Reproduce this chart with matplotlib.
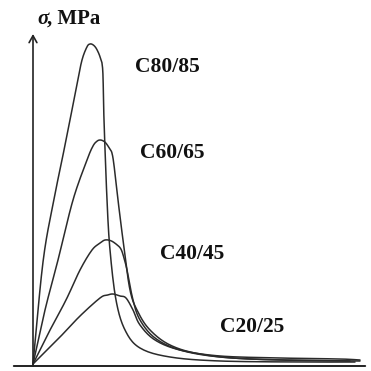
import numpy as np
import matplotlib
matplotlib.use("Agg")
import matplotlib.pyplot as plt

# strain (arbitrary units) and stress (MPa-like units)
labels = ["C80/85", "C60/65", "C40/45", "C20/25"]

strain_c80 = [0, 0.5, 1.0, 1.45, 1.85, 2.2, 2.45, 2.7, 2.85, 3.0, 3.15, 3.3, 3.4, 3.45, 3.5, 3.55, 3.7, 3.85, 4.15, 4.6, 5.35, 6.85, 9.35, 13.35, 16.1]
stress_c80 = [0, 25.5, 40, 51, 61, 70, 76, 79.3, 80, 79.8, 79, 77.5, 76, 75.2, 72, 61, 41, 28.5, 16, 8.5, 4, 1.75, 0.75, 0.5, 0.5]

strain_c60 = [0, 0.6, 1.25, 2.0, 2.7, 3.0, 3.2, 3.35, 3.5, 3.65, 3.85, 3.95, 4.05, 4.25, 4.5, 4.85, 5.25, 5.85, 6.85, 8.35, 10.85, 15.85]
stress_c60 = [0, 13.5, 26, 41, 51, 54.5, 55.7, 56, 55.8, 55.2, 53.7, 52.7, 49.7, 41, 31, 18.5, 13, 8.5, 4.75, 2.5, 1.25, 0.75]

strain_c40 = [0, 0.8, 1.65, 2.35, 2.95, 3.35, 3.6, 3.9, 4.2, 4.4, 4.55, 4.7, 5.0, 5.35, 6.1, 7.35, 9.35, 12.35, 16.35]
stress_c40 = [0, 8, 16, 23.5, 28.5, 30.2, 31, 30.8, 29.8, 28.7, 26.5, 23.5, 16, 11, 6.5, 3.5, 1.75, 1.0, 0.75]

strain_c20 = [0, 1.35, 2.35, 3.35, 3.7, 4.0, 4.35, 4.65, 5.0, 5.35, 6.1, 7.35, 9.35, 12.35, 15.35, 16.35]
stress_c20 = [0, 6.75, 12, 16.5, 17.2, 17.5, 17, 16.5, 13.5, 9.75, 6, 3.5, 2.0, 1.5, 1.25, 1.0]

series = [(strain_c80, stress_c80), (strain_c60, stress_c60),
          (strain_c40, stress_c40), (strain_c20, stress_c20)]


def smooth(x, y, n=12):
    # Catmull-Rom through the read points, only for a smooth stroke
    x = np.asarray(x, float); y = np.asarray(y, float)
    P = np.column_stack([x, y])
    P = np.vstack([2 * P[0] - P[1], P, 2 * P[-1] - P[-2]])
    out = []
    t = np.linspace(0, 1, n, endpoint=False)[:, None]
    for i in range(1, len(P) - 2):
        p0, p1, p2, p3 = P[i - 1], P[i], P[i + 1], P[i + 2]
        seg = 0.5 * ((2 * p1) + (-p0 + p2) * t + (2 * p0 - 5 * p1 + 4 * p2 - p3) * t ** 2
                     + (-p0 + 3 * p1 - 3 * p2 + p3) * t ** 3)
        out.append(seg)
    out.append(P[-2][None, :])
    s = np.vstack(out)
    return s[:, 0], s[:, 1]


fig = plt.figure(figsize=(3.71, 3.71), dpi=100)
ax = fig.add_axes([0, 0, 1, 1])
ax.set_xlim(-1.65, 16.9)
ax.set_ylim(-1.75, 91)
ax.axis("off")

for sx, sy in series:
    xs, ys = smooth(sx, sy)
    ax.plot(xs, ys, color="#2b2b2b", lw=1.1, solid_capstyle="round")

# axes with arrows
ax.annotate("", xy=(0, 83.2), xytext=(0, -1.2),
            arrowprops=dict(arrowstyle="->,head_length=0.5,head_width=0.28",
                            color="#222222", lw=1.2))
ax.annotate("", xy=(16.75, -0.5), xytext=(-1.1, -0.5),
            arrowprops=dict(arrowstyle="-", color="#222222", lw=1.4))

tfont = dict(family=["Liberation Serif", "DejaVu Serif"], weight="bold", color="#111111")
label_pos = [(6.7, 74.2), (6.95, 52.7), (7.95, 27.5), (10.95, 9.25)]
for lab, (lx, ly) in zip(labels, label_pos):
    ax.text(lx, ly, lab, fontsize=15.5, ha="center", va="center", **tfont)

ax.text(0.2, 86.2, "σ", fontsize=15, ha="left", va="center", style="italic",
        family=["Liberation Serif", "DejaVu Serif"], weight="bold", color="#111111")
ax.text(0.72, 86.3, ", MPa", fontsize=15, ha="left", va="center", **tfont)

fig.savefig("out.png", dpi=100)
